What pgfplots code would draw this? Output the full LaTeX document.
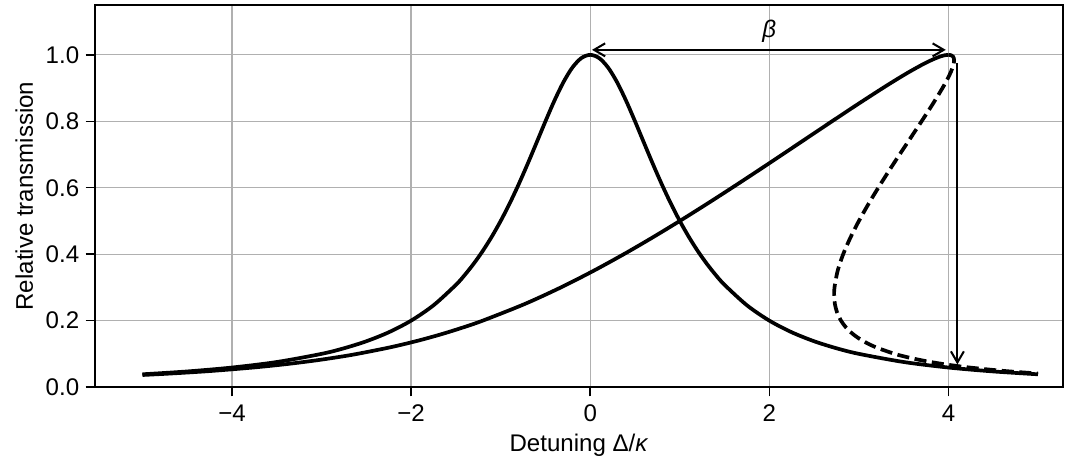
\documentclass[border=0pt]{standalone}
\usepackage{fontspec}
\setmainfont{Liberation Sans}
\usepackage{pgfplots}
\pgfplotsset{compat=1.18}
\usetikzlibrary{arrows.meta}
\begin{document}
\begin{tikzpicture}
\begin{axis}[
  name=ax,
  scale only axis,
  width=522.7pt, height=206.3pt,
  xmin=-5.53, xmax=5.28, ymin=0, ymax=1.15,
  xtick={-4,-2,0,2,4},
  xticklabels={−4,−2,0,2,4},
  ytick={0,0.2,0.4,0.6,0.8,1.0},
  yticklabels={0.0,0.2,0.4,0.6,0.8,1.0},
  xtick pos=lower, ytick pos=left,
  grid=major,
  grid style={color={rgb,255:red,176;green,176;blue,176}, line width=0.7pt},
  tick align=outside,
  tick style={black, line width=0.8pt},
  major tick length=5pt,
  axis line style={line width=0.8pt},
  ticklabel style={font=\fontsize{13}{15}\selectfont},
  xticklabel style={yshift=-1pt},
  label style={font=\fontsize{13}{15}\selectfont},
  xlabel={Detuning Δ/\textit{κ}},
  ylabel={Relative transmission},
  /pgf/number format/assume math mode=true,
  clip=false,
]
% Lorentzian
\addplot[black, line width=2pt, smooth] coordinates {
(-5,0.03846)(-4.5,0.04706)(-4,0.05882)(-3.5,0.07547)(-3,0.1)(-2.75,0.11679)
(-2.5,0.13793)(-2.25,0.16495)(-2,0.2)(-1.75,0.24615)(-1.5,0.30769)(-1.4,0.33784)
(-1.3,0.37175)(-1.2,0.40984)(-1.1,0.45249)(-1.0,0.5)(-0.9,0.55249)(-0.8,0.60976)
(-0.7,0.67114)(-0.6,0.73529)(-0.5,0.8)(-0.4,0.86207)(-0.3,0.91743)(-0.2,0.96154)
(-0.1,0.99010)(0,1)
(0.1,0.99010)(0.2,0.96154)(0.3,0.91743)(0.4,0.86207)(0.5,0.8)(0.6,0.73529)
(0.7,0.67114)(0.8,0.60976)(0.9,0.55249)(1.0,0.5)(1.1,0.45249)(1.2,0.40984)
(1.3,0.37175)(1.4,0.33784)(1.5,0.30769)(1.75,0.24615)(2,0.2)(2.25,0.16495)
(2.5,0.13793)(2.75,0.11679)(3,0.1)(3.5,0.07547)(4,0.05882)(4.5,0.04706)(5,0.03846)
};
% Bistable stable branch
\addplot[black, line width=2pt, smooth] coordinates {
(-5.0,0.0364)(-4.739,0.04)(-4.4268,0.045)(-4.1589,0.05)(-3.7181,0.06)(-3.3650,0.07)
(-3.0712,0.08)(-2.8198,0.09)(-2.6,0.10)(-2.2280,0.12)(-1.9185,0.14)(-1.6513,0.16)
(-1.4144,0.18)(-1.2,0.20)(-0.7321,0.25)(-0.3275,0.30)(0.0372,0.35)(0.3753,0.40)
(0.6945,0.45)(1.0,0.50)(1.2955,0.55)(1.5835,0.60)(1.8662,0.65)(2.1453,0.70)
(2.4226,0.75)(2.7,0.80)(2.9799,0.85)(3.2667,0.90)(3.4456,0.93)(3.5706,0.95)
(3.7041,0.97)(3.7771,0.98)(3.8595,0.99)(3.9091,0.995)(3.9399,0.9975)(3.9644,0.999)(4,1)
};
% Bistable other branch
\addplot[black, line width=2pt, smooth, dash pattern=on 6.5pt off 3pt] coordinates {
(4,1)(4.0276,0.999)(4.0509,0.995)(4.0605,0.99)(4.0629,0.98)(4.0559,0.97)(4.0294,0.95)
(3.9944,0.93)(3.9333,0.90)(3.8201,0.85)(3.7,0.80)(3.5774,0.75)(3.4547,0.70)
(3.3338,0.65)(3.2165,0.60)(3.1045,0.55)(3.0,0.50)(2.9055,0.45)(2.8247,0.40)
(2.7628,0.35)(2.7275,0.30)(2.7237,0.275)(2.7321,0.25)(2.7559,0.225)(2.8,0.20)
(2.8544,0.18)(2.9313,0.16)(3.0385,0.14)(3.1880,0.12)(3.4,0.10)(3.5398,0.09)
(3.7112,0.08)(3.9250,0.07)(4.1981,0.06)(4.5589,0.05)(4.7868,0.045)(5.0003,0.041)
};
\draw[black, line width=1.1pt, {Straight Barb[length=6pt,width=7pt]}-{Straight Barb[length=6pt,width=7pt]}]
  (axis cs:0.02,1.015) -- (axis cs:3.97,1.015);
\node[anchor=south, font=\fontsize{13}{15}\selectfont, inner sep=2pt] at (axis cs:2,1.025) {\textit{β}};
\draw[black, line width=1.1pt, -{Straight Barb[length=6pt,width=7pt]}]
  (axis cs:4.1,0.975) -- (axis cs:4.1,0.068);
\end{axis}
\path (ax.south west) ++(-51.3pt,-43.2pt) coordinate (bl);
\path (ax.north east) ++(5.9pt,2.7pt) coordinate (tr);
\useasboundingbox (bl) rectangle (tr);
\end{tikzpicture}
\end{document}
